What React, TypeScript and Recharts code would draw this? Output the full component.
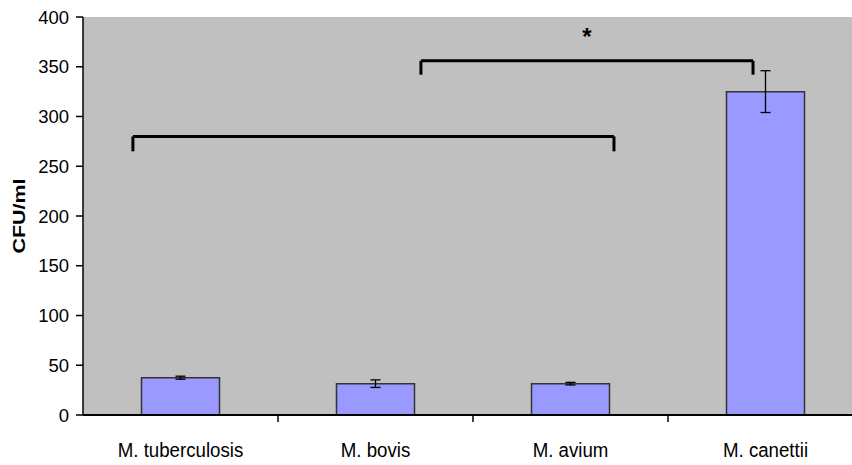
import React from 'react';
import { BarChart, Bar, XAxis, YAxis, CartesianGrid, ErrorBar, ReferenceLine } from 'recharts';

const species = ['M. tuberculosis', 'M. bovis', 'M. avium', 'M. canettii'];
const cfu = [37.5, 31.5, 31.5, 325];
const cfuErr = [1.5, 3.8, 1.3, 21];
const yTicks = [0, 50, 100, 150, 200, 250, 300, 350, 400];
// centre of each category on a 0..4 position scale
const slot = [0.5, 1.5, 2.5, 3.5];

// significance brackets on the same 0..4 position scale
const bracketLow = { x1: 0.256, x2: 2.723, y: 280, drop: 265 };
const bracketHigh = { x1: 1.733, x2: 3.436, y: 356, drop: 342 };

const data = species.map((name, i) => ({ name, cfu: cfu[i], err: cfuErr[i], slot: slot[i] }));

const FONT = '"Liberation Sans", Arial, sans-serif';

const XTick = (props: any) => {
  const { x, y, payload } = props;
  const half = payload && payload.offset ? payload.offset : 97.5;
  return (
    <g>
      <line x1={x + half} y1={y} x2={x + half} y2={y + 7} stroke="#000" strokeWidth={1.5} />
      <text
        transform={`translate(${x}, ${y + 42}) scale(0.89, 1)`}
        textAnchor="middle"
        fontFamily={FONT}
        fontSize={21}
        fill="#000"
      >
        {payload.value}
      </text>
    </g>
  );
};

const YTitle = (props: any) => {
  const vb = props.viewBox || { y: 17, height: 397 };
  const cy = vb.y + vb.height / 2;
  return (
    <text
      transform={`translate(25, ${cy}) rotate(-90) scale(1.3, 1)`}
      textAnchor="middle"
      fontFamily={FONT}
      fontWeight="bold"
      fontSize={16.5}
      fill="#000"
    >
      CFU/ml
    </text>
  );
};

export default function App() {
  const lines = [bracketLow, bracketHigh];
  return (
    <div style={{ position: 'absolute', left: 0, top: 0, width: 852, height: 465, overflow: 'hidden', background: '#fff' }}>
      <BarChart
        width={864}
        height={465}
        data={data}
        margin={{ top: 17, right: 1, bottom: 0, left: 0 }}
        barCategoryGap="30%"
      >
        <CartesianGrid fill="#c0c0c0" horizontal={false} vertical={false} />
        <XAxis
          dataKey="name"
          height={50}
          tickLine={false}
          tickSize={0}
          tickMargin={0}
          axisLine={{ stroke: '#000', strokeWidth: 2 }}
          tick={<XTick />}
          interval={0}
        />
        <XAxis xAxisId="pos" dataKey="slot" type="number" scale="linear" domain={[0, 4]} allowDataOverflow hide />
        <YAxis
          width={83}
          domain={[0, 400]}
          ticks={yTicks}
          interval={0}
          tickSize={7}
          tickMargin={7}
          axisLine={{ stroke: '#000', strokeWidth: 1.5 }}
          tickLine={{ stroke: '#000', strokeWidth: 1.5 }}
          tick={{ fill: '#000', fontSize: 18.5, fontFamily: FONT }}
          label={<YTitle />}
        />
        <Bar dataKey="cfu" fill="#9999ff" stroke="#333" strokeWidth={1.5} isAnimationActive={false}>
          <ErrorBar dataKey="err" width={5} stroke="#000" strokeWidth={1.3} direction="y" />
        </Bar>
        {lines.map((b, i) => [
          <ReferenceLine
            key={`l${i}`}
            xAxisId="pos"
            ifOverflow="visible"
            segment={[{ x: b.x1, y: b.drop }, { x: b.x1, y: b.y }]}
            stroke="#000"
            strokeWidth={3}
          />,
          <ReferenceLine
            key={`h${i}`}
            xAxisId="pos"
            ifOverflow="visible"
            segment={[{ x: b.x1, y: b.y }, { x: b.x2, y: b.y }]}
            stroke="#000"
            strokeWidth={3}
            label={i === 1 ? { value: '*', position: 'top', offset: 16, style: { fontFamily: FONT, fontWeight: 'bold', fontSize: 24, fill: '#000' } } : undefined}
          />,
          <ReferenceLine
            key={`r${i}`}
            xAxisId="pos"
            ifOverflow="visible"
            segment={[{ x: b.x2, y: b.y }, { x: b.x2, y: b.drop }]}
            stroke="#000"
            strokeWidth={3}
          />,
        ])}
      </BarChart>
    </div>
  );
}
